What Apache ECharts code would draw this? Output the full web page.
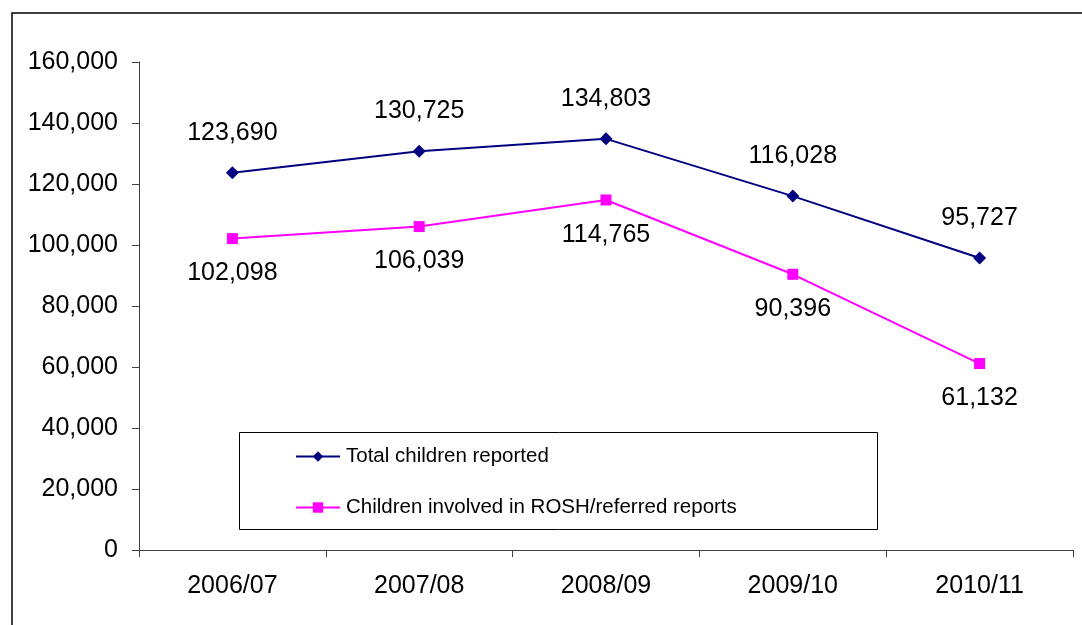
<!DOCTYPE html>
<html>
<head>
<meta charset="utf-8">
<script src="https://cdn.jsdelivr.net/npm/echarts@6/dist/echarts.min.js"></script>
<style>
  html, body { margin: 0; padding: 0; background: #fff; }
  #chart { width: 1082px; height: 625px; }
</style>
</head>
<body>
<div id="chart"></div>
<script>
// Financial years
const years = ['2006/07', '2007/08', '2008/09', '2009/10', '2010/11'];
// Series values
const totalChildren = [123690, 130725, 134803, 116028, 95727];
const roshChildren = [102098, 106039, 114765, 90396, 61132];
// Series names
const seriesNames = ['Total children reported', 'Children involved in ROSH/referred reports'];
// Y-axis scale
const yMin = 0, yMax = 160000, yStep = 20000;

const FONT = '"Liberation Sans", Arial, sans-serif';
const fmt = v => Number(v).toLocaleString('en-US');

const chart = echarts.init(document.getElementById('chart'));
chart.setOption({
  animation: false,
  backgroundColor: '#ffffff',
  textStyle: { fontFamily: FONT },
  graphic: [
    // outer chart frame
    { type: 'rect', shape: { x: 12, y: 13, width: 1200, height: 800 },
      style: { fill: 'none', stroke: '#000', lineWidth: 1.5 }, z: 0 },
    // legend frame
    { type: 'rect', shape: { x: 239.5, y: 432.5, width: 638, height: 97 },
      style: { fill: '#fff', stroke: '#000', lineWidth: 1 }, z: 5 }
  ],
  grid: { left: 139, right: 9, top: 62, bottom: 75, containLabel: false },
  legend: {
    orient: 'vertical',
    left: 295, top: 444,
    padding: 0,
    itemGap: 26,
    itemWidth: 44, itemHeight: 13,
    textStyle: { fontSize: 20.5, lineHeight: 25, color: '#000', fontFamily: FONT, padding: [0, 0, 0, 1] },
    data: seriesNames,
    z: 10
  },
  xAxis: {
    type: 'category',
    data: years,
    boundaryGap: true,
    axisLine: { lineStyle: { color: '#404040', width: 1 } },
    axisTick: { show: true, length: 7, lineStyle: { color: '#404040' } },
    axisLabel: { fontSize: 25, color: '#000', margin: 24, fontFamily: FONT },
    splitLine: { show: false }
  },
  yAxis: {
    type: 'value',
    min: yMin, max: yMax, interval: yStep,
    axisLine: { show: true, lineStyle: { color: '#404040', width: 1 } },
    axisTick: { show: true, length: 7, lineStyle: { color: '#404040' } },
    axisLabel: { fontSize: 25, color: '#000', margin: 21, fontFamily: FONT, formatter: fmt },
    splitLine: { show: false }
  },
  series: [
    {
      name: seriesNames[0],
      type: 'line',
      data: totalChildren,
      color: '#000080',
      symbol: 'diamond', symbolSize: 13,
      lineStyle: { width: 2, color: '#000080' },
      itemStyle: { color: '#000080' },
      label: { show: true, position: 'top', distance: 21, fontSize: 25, color: '#000',
               fontFamily: FONT, formatter: p => fmt(p.value) },
      z: 3
    },
    {
      name: seriesNames[1],
      type: 'line',
      data: roshChildren,
      color: '#ff00ff',
      symbol: 'rect', symbolSize: 11,
      lineStyle: { width: 2, color: '#ff00ff' },
      itemStyle: { color: '#ff00ff' },
      label: { show: true, position: 'bottom', distance: 17, fontSize: 25, color: '#000',
               fontFamily: FONT, formatter: p => fmt(p.value) },
      z: 3
    }
  ]
});
</script>
</body>
</html>
